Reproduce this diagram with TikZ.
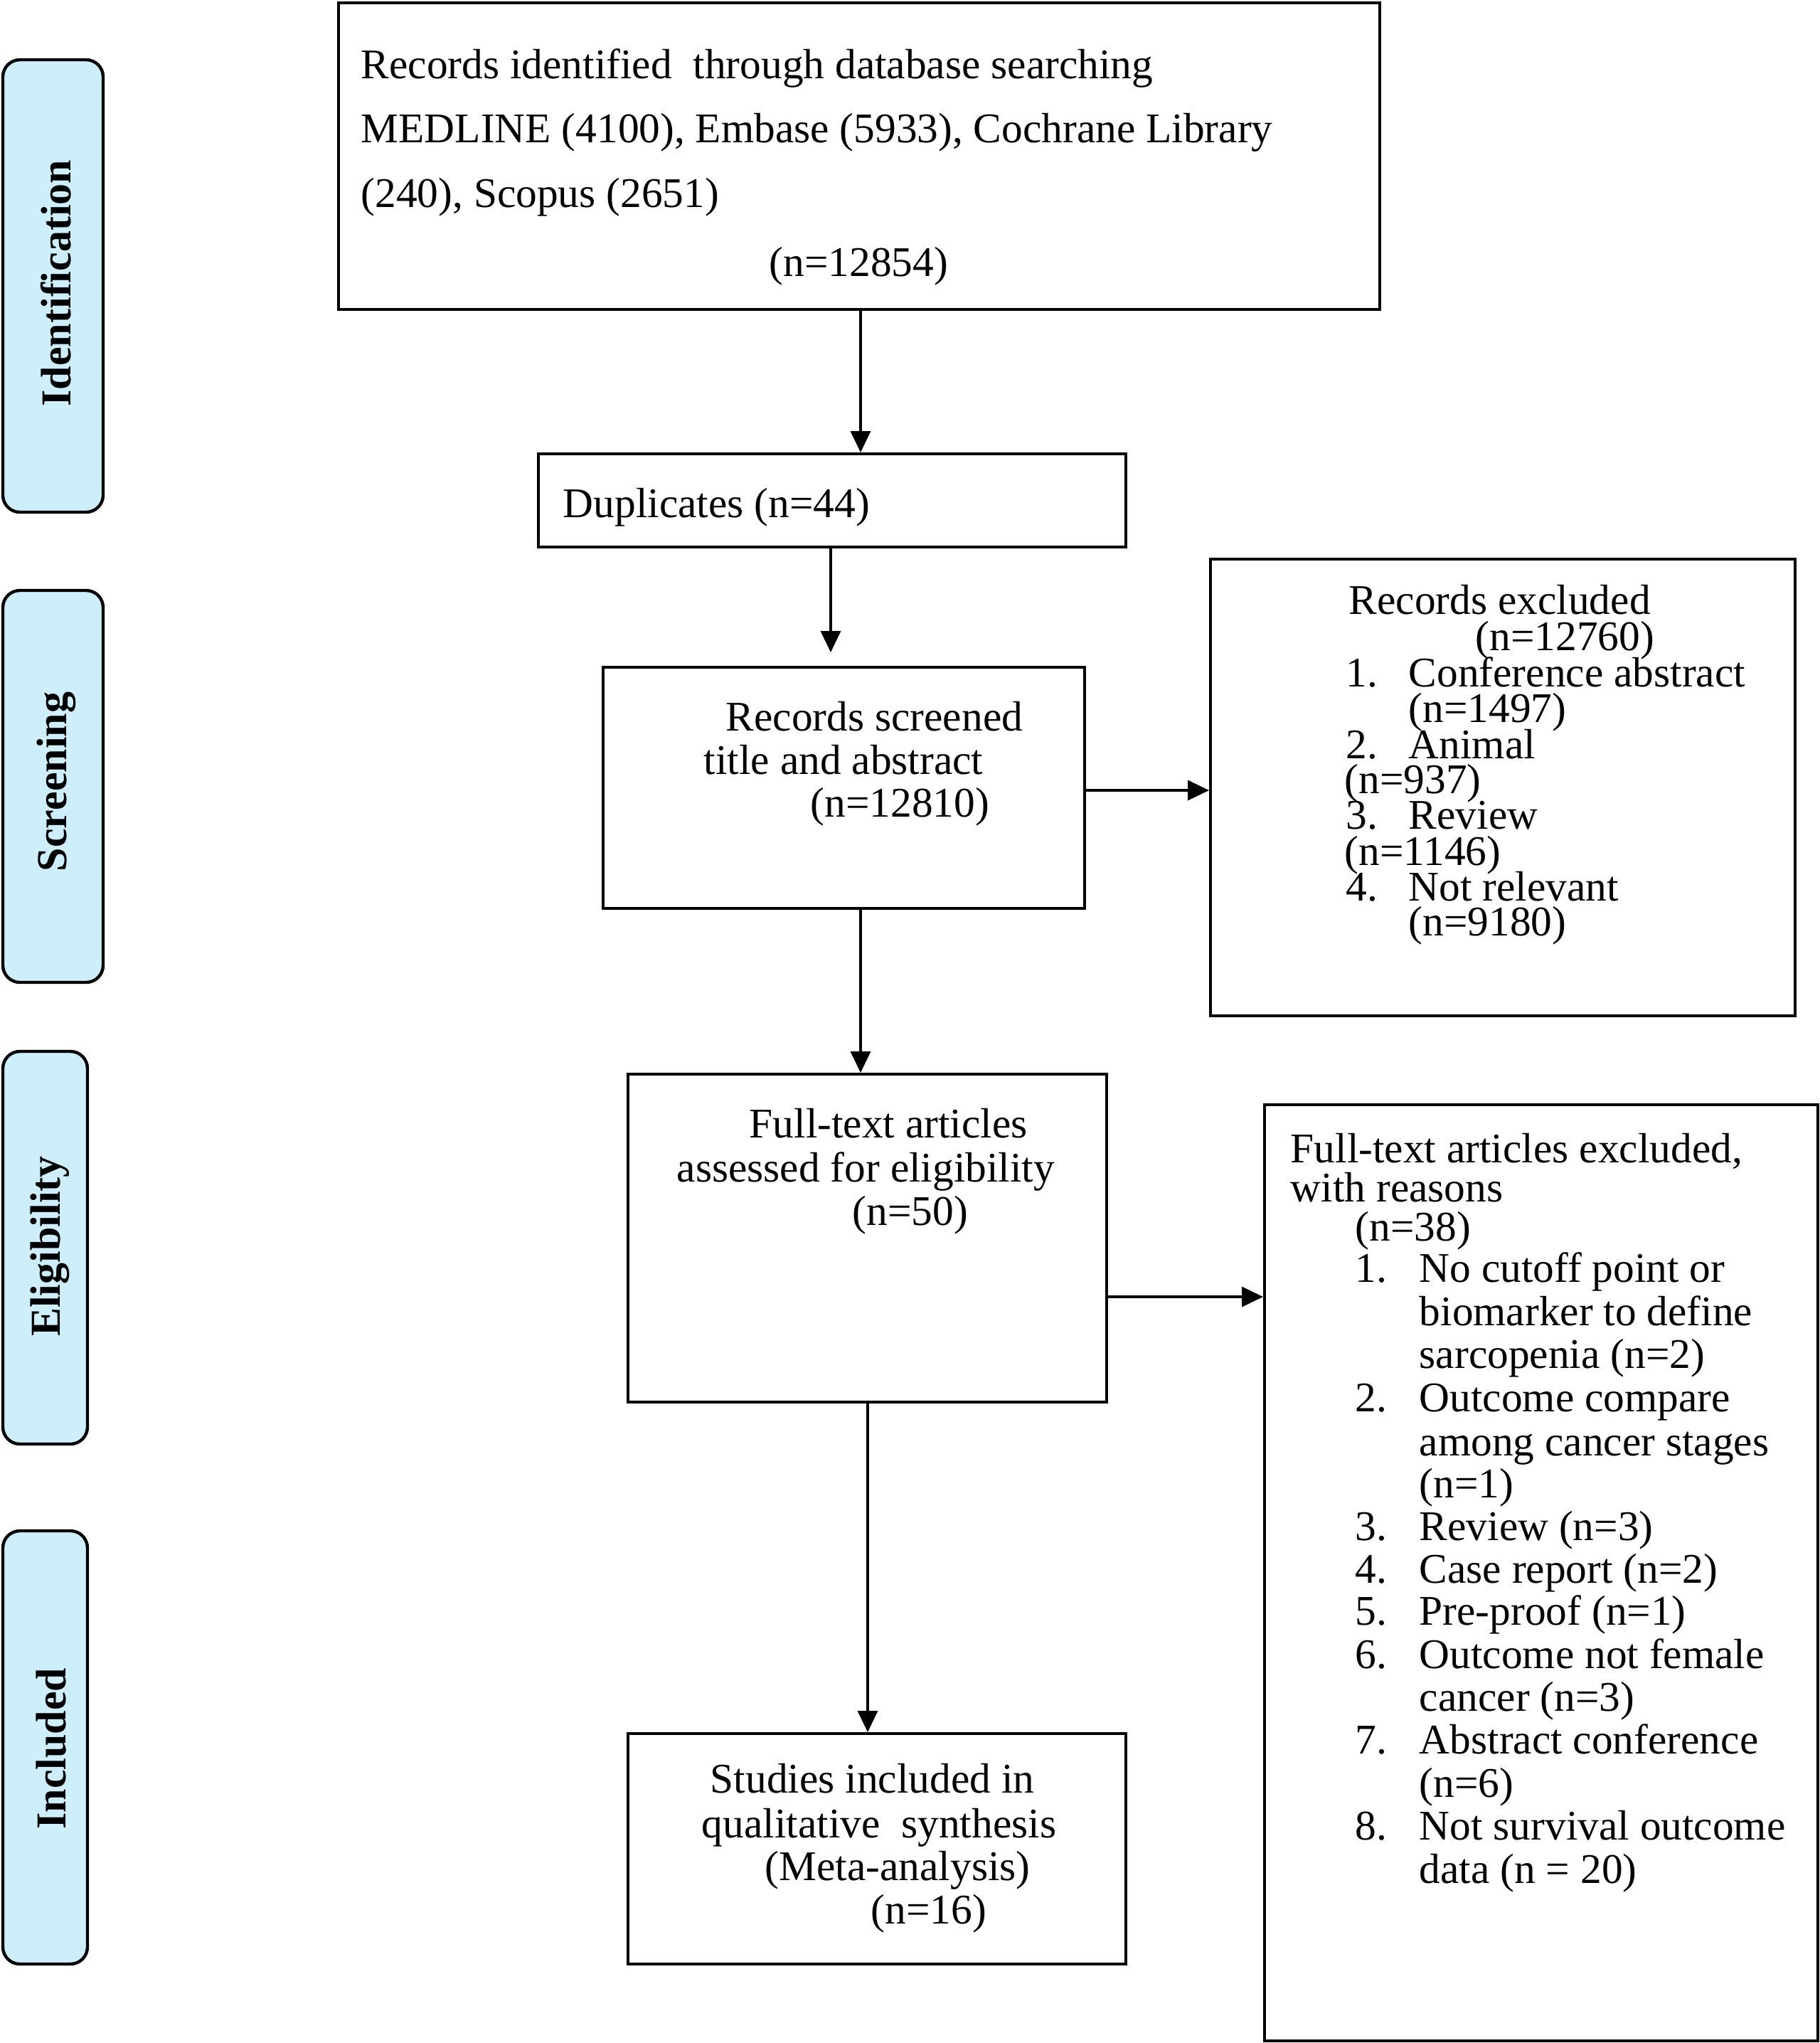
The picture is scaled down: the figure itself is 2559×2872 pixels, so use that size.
\documentclass[tikz,border=0pt]{standalone}
\usepackage{fontspec}
\setmainfont{Liberation Serif}
\usetikzlibrary{arrows.meta}
\definecolor{sidefill}{RGB}{206,238,252}
\begin{document}
\begin{tikzpicture}[x=0.25pt,y=-0.25pt,
  box/.style={draw=black,line width=1pt,fill=white,inner sep=0,rectangle},
  side/.style={draw=black,line width=1.1pt,fill=sidefill,rounded corners=6pt,inner sep=0},
  sidetxt/.style={rotate=90,font=\fontsize{15}{18}\selectfont\bfseries,inner sep=0},
  txt/.style={inner sep=0,anchor=base west,font=\fontsize{14.85}{17}\selectfont},
  arr/.style={line width=0.85pt,-{Triangle[width=7pt,length=7.5pt]}}]
\useasboundingbox (0,0) rectangle (2559,2872);

% side labels
\node[side,minimum width=35.25pt,minimum height=159pt] (sId) at (74.5,402) {};
\node[sidetxt] (sIdT) at (79,398) {Identification};
\node[side,minimum width=35.25pt,minimum height=137.75pt] (sSc) at (74.5,1105.5) {};
\node[sidetxt] (sScT) at (79,1099) {Screening};
\node[side,minimum width=29.75pt,minimum height=138pt] (sEl) at (63.5,1754) {};
\node[sidetxt] (sElT) at (70,1752) {Eligibility};
\node[side,minimum width=29.75pt,minimum height=152.25pt] (sIn) at (63.5,2456.5) {};
\node[sidetxt] (sInT) at (72,2458) {Included};

% boxes
\node[box,minimum width=366pt,minimum height=107.75pt] (b1) at (1208,219.5) {};
\node[box,minimum width=206.5pt,minimum height=32.75pt] (dup) at (1170,703.5) {};
\node[box,minimum width=169.25pt,minimum height=84.75pt] (scr) at (1186.5,1107.5) {};
\node[box,minimum width=205.5pt,minimum height=160.5pt] (ex1) at (2113,1106.5) {};
\node[box,minimum width=168.25pt,minimum height=115.25pt] (ft) at (1219.5,1740.5) {};
\node[box,minimum width=194.5pt,minimum height=329pt] (ex2) at (2167,2211) {};
\node[box,minimum width=175pt,minimum height=81pt] (st) at (1233,2599) {};

% box 1 text
\node[txt] (b1a) at (507,110) {Records identified\ \ through database searching};
\node[txt] (b1b) at (507,200) {MEDLINE (4100), Embase (5933), Cochrane Library};
\node[txt] (b1c) at (507,291) {(240), Scopus (2651)};
\node[txt] (b1d) at (1081,388) {(n=12854)};

% duplicates
\node[txt] (dupa) at (791,727) {Duplicates (n=44)};

% screened
\node[txt] (scra) at (1020,1027) {Records screened};
\node[txt] (scrb) at (989,1088) {title and abstract};
\node[txt] (scrc) at (1139,1148) {(n=12810)};

% records excluded
\node[txt] (e1a) at (1896,863) {Records excluded};
\node[txt] (e1b) at (2074,914) {(n=12760)};
\node[txt] (e1n1) at (1892,965) {1.};
\node[txt] (e1c) at (1980,965) {Conference abstract};
\node[txt] (e1d) at (1980,1015) {(n=1497)};
\node[txt] (e1n2) at (1892,1066) {2.};
\node[txt] (e1e) at (1980,1066) {Animal};
\node[txt] (e1f) at (1890,1115) {(n=937)};
\node[txt] (e1n3) at (1892,1165) {3.};
\node[txt] (e1g) at (1980,1165) {Review};
\node[txt] (e1h) at (1890,1216) {(n=1146)};
\node[txt] (e1n4) at (1892,1266) {4.};
\node[txt] (e1i) at (1980,1266) {Not relevant};
\node[txt] (e1j) at (1980,1315) {(n=9180)};

% full-text
\node[txt] (fta) at (1053,1599) {Full-text articles};
\node[txt] (ftb) at (951,1661) {assessed for eligibility};
\node[txt] (ftc) at (1198,1722) {(n=50)};

% full-text excluded
\node[txt] (e2a) at (1814,1634) {Full-text articles excluded,};
\node[txt] (e2b) at (1814,1689) {with reasons};
\node[txt] (e2c) at (1905,1744) {(n=38)};
\node[txt] (e2n1) at (1905,1802) {1.};
\node[txt] (e2d) at (1995,1802) {No cutoff point or};
\node[txt] (e2e) at (1995,1863) {biomarker to define};
\node[txt] (e2f) at (1995,1923) {sarcopenia (n=2)};
\node[txt] (e2n2) at (1905,1984) {2.};
\node[txt] (e2g) at (1995,1984) {Outcome compare};
\node[txt] (e2h) at (1995,2046) {among cancer stages};
\node[txt] (e2i) at (1995,2105) {(n=1)};
\node[txt] (e2n3) at (1905,2165) {3.};
\node[txt] (e2j) at (1995,2165) {Review (n=3)};
\node[txt] (e2n4) at (1905,2225) {4.};
\node[txt] (e2k) at (1995,2225) {Case report (n=2)};
\node[txt] (e2n5) at (1905,2284) {5.};
\node[txt] (e2l) at (1995,2284) {Pre-proof (n=1)};
\node[txt] (e2n6) at (1905,2345) {6.};
\node[txt] (e2m) at (1995,2345) {Outcome not female};
\node[txt] (e2n) at (1995,2405) {cancer (n=3)};
\node[txt] (e2n7) at (1905,2465) {7.};
\node[txt] (e2o) at (1995,2465) {Abstract conference};
\node[txt] (e2p) at (1995,2526) {(n=6)};
\node[txt] (e2n8) at (1905,2586) {8.};
\node[txt] (e2q) at (1995,2586) {Not survival outcome};
\node[txt] (e2r) at (1995,2647) {data (n = 20)};

% studies included
\node[txt] (sta) at (998,2520) {Studies included in};
\node[txt] (stb) at (986,2583) {qualitative\ \ synthesis};
\node[txt] (stc) at (1075,2643) {(Meta-analysis)};
\node[txt] (std) at (1224,2704) {(n=16)};

% connectors
\coordinate (x1) at (1210,0);
\draw[arr] (b1.south -| x1) -- (dup.north -| x1);
\coordinate (c2) at (1168,917);
\draw[arr] (dup.south -| c2) -- (c2);
\coordinate (y3) at (0,1111);
\draw[arr] (scr.east |- y3) -- (ex1.west |- y3);
\coordinate (x4) at (1210,0);
\draw[arr] (scr.south -| x4) -- (ft.north -| x4);
\coordinate (y5) at (0,1823);
\draw[arr] (ft.east |- y5) -- (ex2.west |- y5);
\coordinate (x6) at (1220,0);
\draw[arr] (ft.south -| x6) -- (st.north -| x6);
\end{tikzpicture}
\end{document}
